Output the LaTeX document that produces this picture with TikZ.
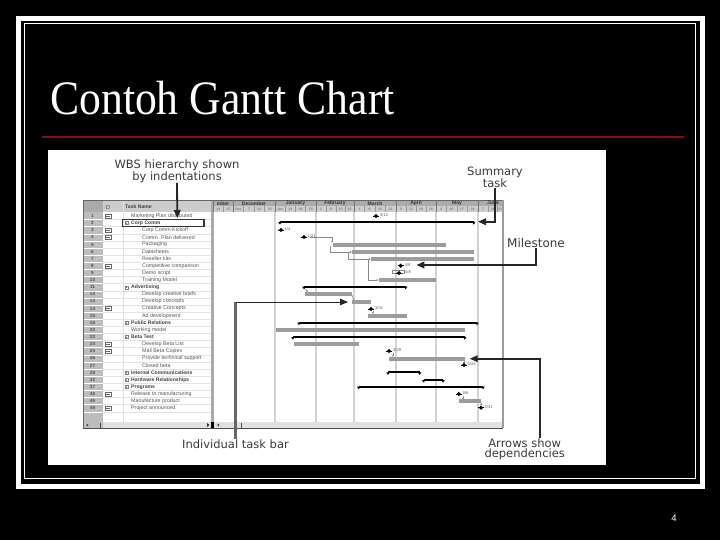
\documentclass[tikz,border=0pt]{standalone}
\usepackage{fontspec}
\usepackage{graphicx}
\setmainfont{Liberation Serif}
\newfontfamily\armfont{Liberation Sans}
\newfontfamily\callfont{DejaVu Sans}
\usetikzlibrary{arrows.meta,shapes.geometric}
\definecolor{framew}{HTML}{FFFFFF}
\definecolor{rulered}{HTML}{7A1414}
\definecolor{barg}{HTML}{9C9C9C}
\definecolor{idg}{HTML}{BDBDBD}
\definecolor{headg}{HTML}{ABABAB}
\definecolor{subg}{HTML}{CDCDCD}
\definecolor{gridg}{HTML}{D2D2D2}
\definecolor{txtg}{HTML}{555555}
\definecolor{lineg}{HTML}{E2E2E2}
\definecolor{calltxt}{HTML}{3A3A3A}
\definecolor{conng}{HTML}{8A8A8A}
\tikzset{
  taskname/.style={anchor=west,inner sep=0pt,text=txtg,font=\armfont\fontsize{5.3}{6}\selectfont},
  boldname/.style={taskname,text=black!75,font=\armfont\bfseries\fontsize{5.1}{6}\selectfont},
  idtxt/.style={inner sep=0pt,text=black!70,font=\armfont\bfseries\fontsize{4.5}{5}\selectfont},
  monthtxt/.style={inner sep=0pt,text=black!80,font=\armfont\bfseries\fontsize{5}{5}\selectfont},
  subtxt/.style={inner sep=0pt,text=txtg,font=\armfont\fontsize{3.4}{4}\selectfont},
  callout/.style={inner sep=0pt,align=center,text=calltxt,font=\callfont\fontsize{11.5}{10}\selectfont},
  callline/.style={draw=black!85,line width=1.8pt,-{Triangle[length=8pt,width=6.5pt]}},
  gridline/.style={draw=gridg,line width=2pt},
  taskbar/.style={fill=barg,draw=none},
  sumbar/.style={draw=black,line width=1.7pt},
  sumend/.style={fill=black,draw=none},
  msmark/.style={diamond,fill=black,inner sep=0pt,minimum size=4.5pt},
  mstxt/.style={anchor=west,inner sep=0pt,text=txtg,font=\armfont\fontsize{4}{4}\selectfont},
  dep/.style={draw=conng,line width=0.5pt,-{Latex[length=2pt,width=2pt]}},
  indbox/.style={draw=black!60,fill=white,line width=0.4pt}
}
\newcommand{\bartask}[3]{\fill[taskbar] (#1,#3-2) rectangle (#2,#3+2);}
\newcommand{\barsum}[3]{%
  \draw[sumbar] (#1,#3) -- (#2,#3);
  \fill[sumend] (#1-1.8,#3) -- (#1+1.8,#3) -- (#1,#3+2.6) -- cycle;
  \fill[sumend] (#2-1.8,#3) -- (#2+1.8,#3) -- (#2,#3+2.6) -- cycle;}
\newcommand{\milest}[5]{%
  \node[msmark] (#1) at (#2,#3) {};
  \draw[black,line width=0.6pt] (#2-3,#3) -- (#2+3,#3);
  \node[mstxt] (#1t) at (#2+#5,#3-0.5) {#4};}
\begin{document}
\begin{tikzpicture}[x=1pt,y=-1pt]
\useasboundingbox (0,0) rectangle (720,540);
\fill[black] (0,0) rectangle (720,540);
% slide frame
\draw[framew,line width=5pt] (18.5,18.5) rectangle (702.5,486.5);
\draw[framew,line width=1pt] (24,24) rectangle (695.5,478.5);
% title
\node[anchor=base west,inner sep=0pt,text=white,font=\fontsize{48}{48}\selectfont] (title) at (50,115) {\scalebox{0.91}[1]{Contoh Gantt Chart}};
\coordinate (ruleL) at (42,137);
\coordinate (ruleR) at (684,137);
\draw[rulered,line width=2pt] (ruleL) -- (ruleR);
\node[inner sep=0pt,text=white,font=\armfont\fontsize{9.5}{10}\selectfont] (pageno) at (674,518) {4};
% white picture
\fill[white] (48,150) rectangle (606,465);
% table columns
\fill[idg] (83,200) rectangle (103,422);
\fill[headg] (83,200) rectangle (213,212);
\fill[subg] (103,201) rectangle (211,212);
\foreach \i in {1,...,28} {
  \pgfmathsetmacro{\ly}{216+7.12*(\i-1)+3.56}
  \draw[lineg,line width=0.5pt] (103,\ly) -- (211,\ly);
  \draw[white,line width=0.5pt] (83,\ly) -- (103,\ly);
}
\draw[lineg,line width=0.8pt] (123,200) -- (123,422);
\fill[headg] (211,200) rectangle (214,422);
% chart header
\fill[headg] (213,200) rectangle (503,206.5);
\fill[subg] (213,206.5) rectangle (503,212);
\draw[black!60,line width=0.5pt] (83,200) -- (503,200);
% gridlines
\foreach \gx in {275,316,354,396,436,478} {
  \draw[gridline] (\gx,212) -- (\gx,422);
}
\foreach \gx in {213,233.5,275,316,354,396,436,478} {
  \draw[black!55,line width=0.6pt] (\gx,200) -- (\gx,212);
}
\foreach \tx in {223.5,243.5,254,264.5,285,295.5,305.5,326,336,345,364,375,385,406,416,426,446,457,467,488,497} {
  \draw[black!40,line width=0.3pt] (\tx,206.5) -- (\tx,212);
}
% header texts
\node[idtxt,text=black!70,font=\armfont\fontsize{6}{6}\selectfont] (hO) at (108,207) {O};
\node[boldname] (hT) at (125,207) {Task Name};
\foreach \mx/\mn [count=\mi] in {223/mber,254/December,295.5/January,335/February,375/March,416/April,457/May,493/June} {
  \node[monthtxt] (mon\mi) at (\mx,203.3) {\mn};
}
\foreach \sx/\sn [count=\si] in {218.5/11,228.5/25,238.5/Dec,249/7,259/14,270/21,280/Jan,290.5/11,300.5/18,311/25,321/1,331/8,340.5/15,349.5/22,359.5/1,369.5/8,380/15,390.5/22,401/5,411/12,421/19,431/26,441/3,451.5/10,462/17,472.5/24,483/7,492.5/14,500/21} {
  \node[subtxt] (sub\si) at (\sx,209.4) {\sn};
}
% row ids
\foreach \n/\lab in {1/1,2/2,3/3,4/4,5/5,6/6,7/7,8/8,9/9,10/10,11/11,12/12,13/13,14/14,15/15,16/16,17/20,18/23,19/24,20/25,21/26,22/27,23/28,24/32,25/37,26/46,27/48,28/49} {
  \pgfmathsetmacro{\ry}{216+7.12*(\n-1)}
  \node[idtxt] (id\n) at (92.5,\ry) {\lab};
}
% indicator icons
\foreach \n in {1,3,4,8,14,19,20,26,28} {
  \pgfmathsetmacro{\ry}{216+7.12*(\n-1)}
  \draw[indbox] (105,\ry-2) rectangle (111,\ry+2);
  \draw[black!60,line width=0.4pt] (106,\ry) -- (110,\ry);
}
% task names, outline level 1
\foreach \n/\txt in {1/Marketing Plan distributed,17/Working model,26/Release to manufacturing,27/Manufacture product,28/Project announced} {
  \pgfmathsetmacro{\ry}{216+7.12*(\n-1)}
  \node[taskname] (nm\n) at (131,\ry) {\txt};
}
% summary names
\foreach \n/\txt in {2/Corp Comm,11/Advertising,16/Public Relations,18/Beta Test,23/Internal Communications,24/Hardware Relationships,25/Programs} {
  \pgfmathsetmacro{\ry}{216+7.12*(\n-1)}
  \node[boldname] (nm\n) at (131,\ry) {\txt};
  \draw[black!50,line width=0.3pt,fill=white] (125,\ry-1.5) rectangle (128,\ry+1.5);
  \draw[black!60,line width=0.3pt] (125.6,\ry) -- (127.4,\ry);
}
% sub tasks
\foreach \n/\txt in {3/Corp Comm Kickoff,4/Comm. Plan delivered,5/Packaging,6/Datasheets,7/Reseller kits,8/Competitive comparison,9/Demo script,10/Training Model,12/Develop creative briefs,13/Develop concepts,14/Creative Concepts,15/Ad development,19/Develop Beta List,20/Mail Beta Copies,21/Provide technical support,22/Closed beta} {
  \pgfmathsetmacro{\ry}{216+7.12*(\n-1)}
  \node[taskname] (nm\n) at (142,\ry) {\txt};
}
% scroll bar
\fill[lineg] (103,422) rectangle (503,428);
\fill[idg] (83,422) rectangle (103,428);
\draw[black!70,line width=0.7pt] (83,428) -- (503,428);
\draw[black!60,line width=0.7pt] (83,200) -- (83,428);
\draw[barg,line width=2pt] (502.5,200) -- (502.5,428);
\draw[black!70,line width=0.7pt] (100,423) -- (100,427.5);
\fill[black!70] (88,423.5) -- (88,426.5) -- (86,425) -- cycle;
\fill[black!80] (207,423) -- (207,427) -- (209.5,425) -- cycle;
\fill[black] (211,422) rectangle (213.5,428);
\fill[black!70] (219,423.5) -- (219,426.5) -- (217,425) -- cycle;
\draw[black!70,line width=0.7pt] (241.5,423) -- (241.5,427.5);
% dependency connectors
\coordinate (d1a) at (310,237.5); \coordinate (d1b) at (332,243);
\coordinate (d2a) at (330.7,246); \coordinate (d2b) at (352,252);
\coordinate (d3a) at (348.5,253); \coordinate (d3b) at (371,259);
\coordinate (d4a) at (368.7,260); \coordinate (d4b) at (378.5,280);
\coordinate (d5a) at (304,288); \coordinate (d5b) at (308,292);
\coordinate (d6a) at (352,295); \coordinate (d6b) at (354,300);
\draw[dep] (d1a) -| (d1b);
\draw[dep] (d2a) |- (d2b);
\draw[dep] (d3a) |- (d3b);
\draw[dep] (d4a) |- (d4b);
\draw[dep] (d5a) -- (d5b);
\draw[dep] (d6a) -- (d6b);
\draw[conng,line width=0.5pt] (392,270) rectangle (404,273);
\draw[dep] (373,311) -- (373,314);
\draw[dep] (393,353) -- (393,357);
\draw[dep] (464,361) -- (464,364);
\draw[dep] (463,396) -- (463,400);
\draw[dep] (481,403) -- (481,406);
% task bars
\bartask{333}{445.7}{244.7}
\bartask{352}{473.7}{252}
\bartask{371}{473.7}{259}
\bartask{378.7}{435.7}{280}
\bartask{305}{351.7}{294}
\bartask{352}{370.7}{301.7}
\bartask{368}{406.7}{315.7}
\bartask{276}{464.7}{330}
\bartask{294}{359}{344.4}
\bartask{388.7}{464.7}{358.7}
\bartask{458.7}{480.7}{401}
% summary bars
\barsum{280}{473.7}{222}
\barsum{304}{405.7}{286.7}
\barsum{299}{477}{322.7}
\barsum{293}{464.7}{337}
\barsum{388}{419.7}{372.3}
\barsum{423.7}{443}{380}
\barsum{358.7}{483}{386.7}
% milestones
\milest{m1}{376}{216}{3/12}{4}
\milest{m3}{281}{230}{1/4}{3.5}
\milest{m4}{304}{237}{1/21}{3.5}
\milest{m8}{400.7}{265.7}{4/9}{4}
\milest{m9}{399}{273}{4/8}{6}
\milest{m14}{371}{309}{3/31}{4}
\milest{m20}{389}{351}{3/29}{4}
\milest{m22}{464}{365}{5/24}{3.5}
\milest{m26}{458.7}{394}{5/6}{4}
\milest{m28}{481}{407.7}{5/31}{3.5}
% highlight box
\draw[black!80,line width=1.3pt] (122.7,219.3) rectangle (204,226.7);
% callouts
\node[callout] (wbs) at (177,171) {WBS hierarchy shown\\by indentations};
\node[callout] (summ) at (495,177) {Summary\\task};
\node[callout,font=\callfont\fontsize{12}{10}\selectfont] (mile) at (536,243) {Milestone};
\node[callout] (indv) at (235.5,444) {Individual task bar};
\node[callout] (arrw) at (524.7,449) {Arrows show\\dependencies};
\coordinate (wbsTip) at (177.3,218);
\coordinate (sumTip) at (478,221.7);
\coordinate (mileTip) at (416.3,265);
\coordinate (depTip) at (469.7,358.7);
\coordinate (indTip) at (348,302);
\coordinate (indCorner) at (indv.north |- indTip);
\draw[callline] (wbs.south) -- (wbsTip);
\draw[callline] (summ.south) |- (sumTip);
\draw[callline] (mile.south) |- (mileTip);
\draw[callline] ([xshift=15.6pt]arrw.north) |- (depTip);
\draw[black!60,line width=2.5pt] (indv.north) -- (indCorner);
\draw[callline,line width=1pt] (indCorner) -- (indTip);
\end{tikzpicture}
\end{document}
